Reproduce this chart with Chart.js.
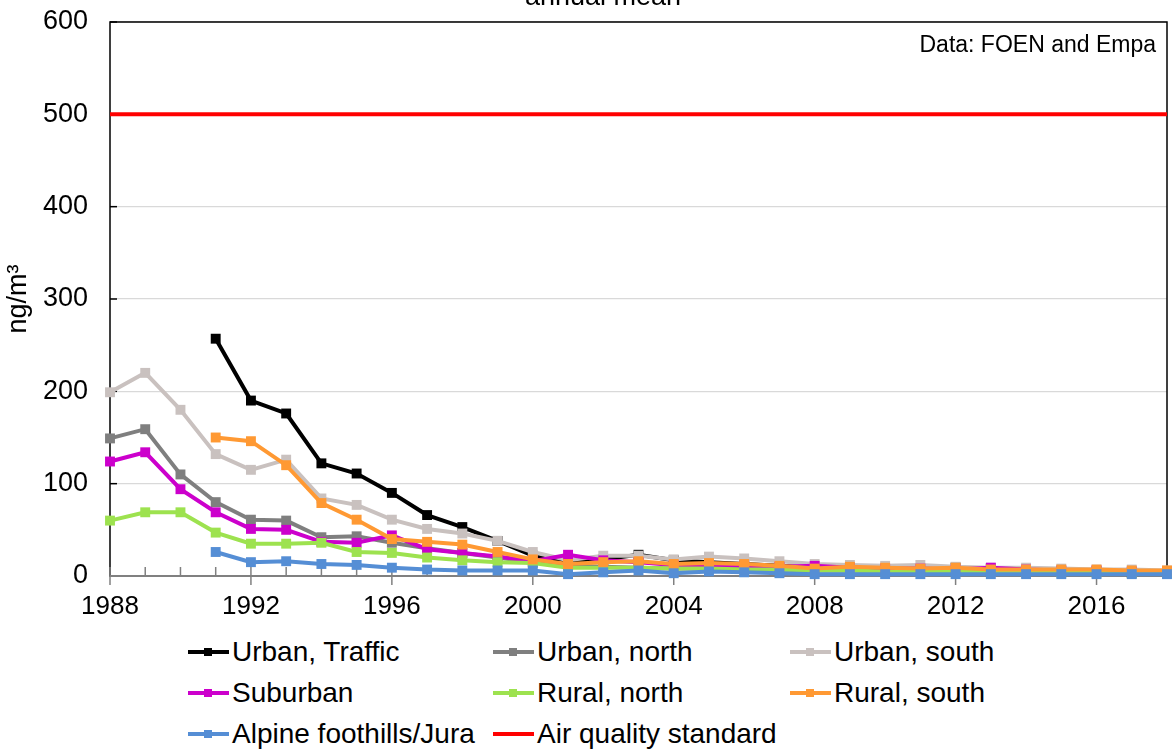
<!DOCTYPE html>
<html>
<head>
<meta charset="utf-8">
<script src="https://cdn.jsdelivr.net/npm/chart.js"></script>
<style>
  body { margin: 0; background: #fff; font-family: Arial, "Liberation Sans", sans-serif; }
  #wrap { position: relative; width: 1174px; height: 753px; overflow: hidden; }
  #pm { position: absolute; left: 0; top: 0; }
  #legend { position: absolute; left: 188px; top: 631px; display: grid;
            grid-template-columns: 305px 297px auto; grid-auto-rows: 41px; }
  .item { display: flex; align-items: center; font-size: 28px; color: #000; white-space: nowrap; }
  .mark { position: relative; width: 41px; height: 10px; margin-right: 3px; }
  .mark .ln { position: absolute; left: 0; right: 0; top: 3px; height: 4px; }
  .mark .sq { position: absolute; left: 16px; top: 1px; width: 8px; height: 8px; }
</style>
</head>
<body>
<div id="wrap">
  <canvas id="pm" width="1174" height="625"></canvas>
  <div id="legend"></div>
</div>

<script>
    // annual mean values in ng/m³, 1988 - 2018
    const years = [1988, 1989, 1990, 1991, 1992, 1993, 1994, 1995, 1996, 1997,
                   1998, 1999, 2000, 2001, 2002, 2003, 2004, 2005, 2006, 2007,
                   2008, 2009, 2010, 2011, 2012, 2013, 2014, 2015, 2016, 2017, 2018];

    const urbanTraffic = [null, null, null, 257, 190, 176, 122, 111, 90, 66,
                          53, 38, 22, 14, 18, 23, 17, 15, 13, 11,
                          9, 8, 8, 8, 9, 8, 6, 5, 5, 4, 4];
    const urbanNorth = [149, 159, 110, 80, 61, 60, 42, 43, 36, 30,
                        25, 20, 15, 11, 10, 9, 8, 8, 8, 7,
                        6, 6, 5, 5, 5, 5, 4, 4, 4, 3, 3];
    const urbanSouth = [199, 220, 180, 132, 115, 126, 84, 77, 61, 51,
                        46, 38, 26, 17, 22, 22, 18, 21, 19, 16,
                        13, 12, 11, 12, 10, 9, 9, 8, 7, 7, 6];
    const suburban = [124, 134, 94, 69, 51, 50, 37, 36, 44, 29,
                      25, 21, 16, 23, 17, 15, 12, 12, 11, 10,
                      11, 9, 8, 8, 7, 9, 7, 6, 6, 5, 5];
    const ruralNorth = [60, 69, 69, 47, 35, 35, 36, 26, 25, 20,
                        17, 15, 14, 9, 9, 9, 8, 8, 7, 7,
                        6, 6, 5, 5, 5, 5, 4, 4, 4, 3, 3];
    const ruralSouth = [null, null, null, 150, 146, 120, 79, 61, 40, 37,
                        34, 26, 18, 13, 15, 16, 13, 14, 13, 11,
                        8, 10, 9, 8, 9, 7, 7, 7, 7, 6, 6];
    const alpine = [null, null, null, 26, 15, 16, 13, 12, 9, 7,
                    6, 6, 6, 2, 4, 6, 3, 5, 4, 3,
                    2, 2, 2, 2, 2, 2, 2, 2, 2, 2, 2];
    const airQualityStandard = 500;

    const yTicks = [0, 100, 200, 300, 400, 500, 600];
    const xLabels = [1988, 1992, 1996, 2000, 2004, 2008, 2012, 2016];

    const series = [
        { label: 'Urban, Traffic', data: urbanTraffic, color: '#000000' },
        { label: 'Urban, north', data: urbanNorth, color: '#7f7f7f' },
        { label: 'Urban, south', data: urbanSouth, color: '#c9c1bf' },
        { label: 'Suburban', data: suburban, color: '#cc00cc' },
        { label: 'Rural, north', data: ruralNorth, color: '#9de24f' },
        { label: 'Rural, south', data: ruralSouth, color: '#ff9933' },
        { label: 'Alpine foothills/Jura', data: alpine, color: '#558ed5' }
    ];

    const datasets = series.map((s, i) => ({
        label: s.label,
        data: s.data.map((v, j) => ({ x: years[j], y: v })),
        borderColor: s.color,
        backgroundColor: s.color,
        borderWidth: 4,
        pointStyle: 'rect',
        pointRadius: 7,
        pointBorderWidth: 0,
        pointBackgroundColor: s.color,
        spanGaps: false,
        clip: false,
        order: 10 - i
    }));
    datasets.push({
        label: 'Air quality standard',
        data: [{ x: years[0], y: airQualityStandard }, { x: years[years.length - 1], y: airQualityStandard }],
        borderColor: '#ff0000',
        borderWidth: 4,
        pointRadius: 0,
        clip: false,
        order: 0
    });

    // frame, tick marks and the two texts at the top
    const decor = {
        id: 'decor',
        beforeDatasetsDraw(chart) {
            const { ctx, chartArea: a, scales } = chart;
            ctx.save();
            ctx.strokeStyle = '#000';
            ctx.lineWidth = 1.5;
            ctx.strokeRect(a.left, a.top, a.right - a.left, a.bottom - a.top);
            // y ticks, inside
            yTicks.forEach(v => {
                const y = scales.y.getPixelForValue(v);
                ctx.beginPath();
                ctx.moveTo(a.left, y);
                ctx.lineTo(a.left + 7, y);
                ctx.stroke();
            });
            // x axis line and year ticks
            ctx.strokeStyle = '#808080';
            ctx.lineWidth = 2;
            ctx.beginPath();
            ctx.moveTo(a.left, a.bottom);
            ctx.lineTo(a.right, a.bottom);
            ctx.stroke();
            ctx.lineWidth = 1.5;
            years.forEach(yr => {
                const x = scales.x.getPixelForValue(yr);
                ctx.beginPath();
                ctx.moveTo(x, a.bottom - 9);
                ctx.lineTo(x, xLabels.includes(yr) ? a.bottom + 9 : a.bottom);
                ctx.stroke();
            });
            ctx.restore();
        },
        afterDraw(chart) {
            const { ctx, chartArea: a } = chart;
            ctx.save();
            ctx.fillStyle = '#000';
            ctx.textBaseline = 'alphabetic';
            ctx.font = '27px Arial, "Liberation Sans", sans-serif';
            ctx.textAlign = 'center';
            ctx.fillText('annual mean', 603, 5);
            ctx.font = '23px Arial, "Liberation Sans", sans-serif';
            ctx.textAlign = 'right';
            ctx.fillText('Data: FOEN and Empa', a.right - 11, 52);
            ctx.restore();
        }
    };

    const fontFamily = 'Arial, "Liberation Sans", sans-serif';

    new Chart(document.getElementById('pm').getContext('2d'), {
        type: 'line',
        data: { datasets: datasets },
        options: {
            responsive: false,
            animation: false,
            layout: { padding: { top: 22, right: 6, left: 0, bottom: 0 } },
            plugins: {
                legend: { display: false },
                tooltip: { enabled: false },
                title: { display: false }
            },
            scales: {
                x: {
                    type: 'linear',
                    min: years[0],
                    max: years[years.length - 1],
                    afterFit(scale) {
                        scale.height = 49;
                        scale.paddingLeft = 0;
                        scale.paddingRight = 0;
                    },
                    afterBuildTicks(scale) { scale.ticks = years.map(v => ({ value: v })); },
                    ticks: {
                        autoSkip: false,
                        maxRotation: 0,
                        padding: 15,
                        color: '#000',
                        font: { family: fontFamily, size: 26 },
                        callback: v => xLabels.includes(v) ? String(v) : ''
                    },
                    grid: { display: false, drawTicks: false },
                    border: { display: false }
                },
                y: {
                    min: 0,
                    max: 600,
                    afterFit(scale) {
                        scale.width = 110;
                        scale.paddingTop = 0;
                        scale.paddingBottom = 0;
                    },
                    afterBuildTicks(scale) { scale.ticks = yTicks.map(v => ({ value: v })); },
                    ticks: { padding: 22, color: '#000', font: { family: fontFamily, size: 27 } },
                    grid: { color: '#d9d9d9', lineWidth: 1.3, drawTicks: false },
                    border: { display: false },
                    title: {
                        display: true,
                        text: 'ng/m³',
                        color: '#000',
                        font: { family: fontFamily, size: 27 },
                        padding: { top: 2, bottom: 0 }
                    }
                }
            }
        },
        plugins: [decor]
    });

    // legend in three columns, same order as the chart source
    const legendItems = series.map(s => ({ label: s.label, color: s.color, square: true }))
        .concat([{ label: 'Air quality standard', color: '#ff0000', square: false }]);
    const legendBox = document.getElementById('legend');
    legendItems.forEach(it => {
        const el = document.createElement('div');
        el.className = 'item';
        el.innerHTML = '<span class="mark"><span class="ln" style="background:' + it.color + '"></span>' +
            (it.square ? '<span class="sq" style="background:' + it.color + '"></span>' : '') +
            '</span><span>' + it.label + '</span>';
        legendBox.appendChild(el);
    });
</script>
</body>
</html>
